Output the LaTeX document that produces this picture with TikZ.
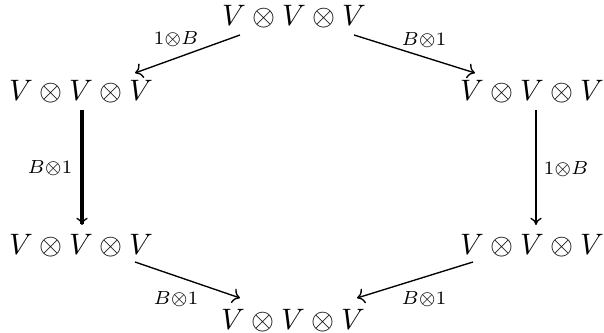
\documentclass[tikz,border=0pt]{standalone}
\usetikzlibrary{arrows.meta}
\begin{document}
\begin{tikzpicture}[x=0.3704pt,y=-0.3704pt,
  obj/.style={inner sep=0pt,anchor=base,font=\fontsize{10.8pt}{13pt}\selectfont},
  lab/.style={inner sep=0pt,anchor=center},
  arr/.style={-{To[line width=0.5pt]},line width=0.5pt},
  vtip/.style={-{To[length=2.7pt,width=4.2pt,line width=0.5pt]}},
  thickarr/.style={vtip,line width=1.5pt},
  medarr/.style={vtip,line width=0.9pt}]
\useasboundingbox (0,0) rectangle (604,333);
\node[obj] (T)  at (294,26)  {$V\otimes V\otimes V$};
\node[obj] (L)  at (81,101)  {$V\otimes V\otimes V$};
\node[obj] (R)  at (532,101) {$V\otimes V\otimes V$};
\node[obj] (LB) at (81,255)  {$V\otimes V\otimes V$};
\node[obj] (RB) at (532,255) {$V\otimes V\otimes V$};
\node[obj] (B)  at (293,330) {$V\otimes V\otimes V$};
\draw[arr] ([shift={(-54,9)}]T.base) -- ([shift={(54,-28)}]L.base);
\draw[arr] ([shift={(60,9)}]T.base) -- ([shift={(-57,-28)}]R.base);
\draw[thickarr] ([shift={(1,9)}]L.base) -- ([shift={(1,-30)}]LB.base);
\draw[medarr] ([shift={(4,9)}]R.base) -- ([shift={(4,-30)}]RB.base);
\draw[arr] ([shift={(54,7)}]LB.base) -- ([shift={(-53,-32)}]B.base);
\draw[arr] ([shift={(-59,7)}]RB.base) -- ([shift={(64,-32)}]B.base);
\node[lab] (l1) at (176,39)  {$\scriptstyle 1\otimes B$};
\node[lab] (l2) at (424,40)  {$\scriptstyle B\otimes 1$};
\node[lab] (l3) at (50,168)  {$\scriptstyle B\otimes 1$};
\node[lab] (l4) at (566,169) {$\scriptstyle 1\otimes B$};
\node[lab] (l5) at (176,299) {$\scriptstyle B\otimes 1$};
\node[lab] (l6) at (424,299) {$\scriptstyle B\otimes 1$};
\end{tikzpicture}
\end{document}
